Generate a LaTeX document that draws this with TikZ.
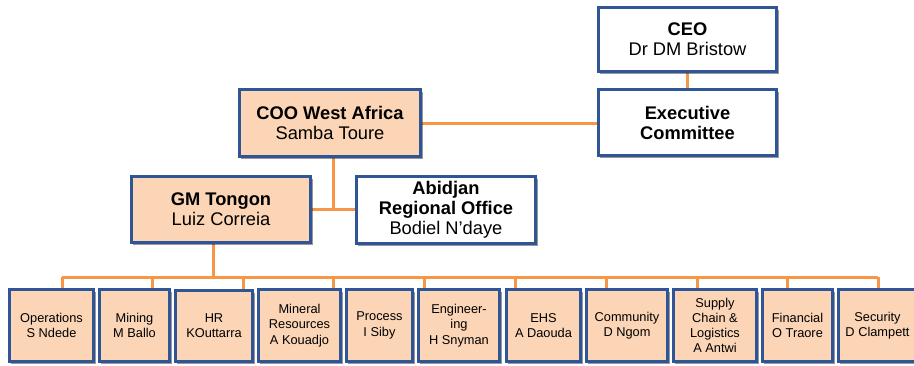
\documentclass[tikz,border=0pt]{standalone}
\usepackage{fontspec}
\setmainfont{Liberation Sans}
\usetikzlibrary{shadows,backgrounds}
\definecolor{bblue}{HTML}{2F5597}
\definecolor{peach}{HTML}{FBD5B5}
\definecolor{conorange}{HTML}{F79646}
\tikzset{
  box/.style={draw=bblue, line width=2.8pt, inner sep=0pt, align=center,
    drop shadow={shadow xshift=2pt, shadow yshift=-2.5pt, fill=black, opacity=0.4}},
  big/.style={font=\fontsize{18.3}{20}\selectfont},
  small/.style={font=\fontsize{12.8}{15.2}\selectfont},
  conn/.style={draw=conorange, line width=3pt}
}
\newcommand{\obox}[7]{%
  \node[box,#6, minimum width={(#4-#2-2.8)*1pt}, minimum height={(#5-#3-2.8)*1pt}]
    (#1) at ({(#2+#4)/2},{(#3+#5)/2}) {#7};}
\begin{document}
\begin{tikzpicture}[x=1pt,y=-1pt]
\useasboundingbox (0,0) rectangle (914,365);
% top boxes
\obox{ceo}{597}{6}{778}{73}{fill=white,big}{\textbf{CEO}\\Dr DM Bristow}
\obox{exec}{597}{88}{778}{157}{fill=white,big}{\textbf{Executive}\\\textbf{Committee}}
\obox{coo}{238}{88}{422}{158}{fill=peach,big}{\textbf{COO West Africa}\\Samba Toure}
\obox{gm}{130}{175}{312}{244}{fill=peach,big}{\textbf{GM Tongon}\\Luiz Correia}
\obox{abj}{355}{175}{537}{245}{fill=white,big}{\textbf{Abidjan}\\\textbf{Regional Office}\\Bodiel N’daye}
% bottom boxes
\obox{ops}{8}{288}{95}{363}{fill=peach,small}{Operations\\S Ndede}
\obox{min}{98}{288}{171}{363}{fill=peach,small}{Mining\\M Ballo}
\obox{hr}{174}{289}{254}{363}{fill=peach,small}{HR\\KOuttarra}
\obox{mres}{257}{288}{342}{363}{fill=peach,small}{Mineral\\Resources\\A Kouadjo}
\obox{proc}{345}{288}{414}{363}{fill=peach,small}{Process\\I Siby}
\obox{eng}{417}{288}{501}{363}{fill=peach,small}{Engineer-\\ing\\H Snyman}
\obox{ehs}{505}{288}{582}{363}{fill=peach,small}{EHS\\A Daouda}
\obox{com}{585}{288}{669}{363}{fill=peach,small}{Community\\D Ngom}
\obox{sup}{672}{288}{758}{363}{fill=peach,small}{Supply\\Chain \&\\Logistics\\A Antwi}
\obox{fin}{761}{288}{834}{363}{fill=peach,small}{Financial\\O Traore}
\obox{sec}{837}{288}{918}{363}{fill=peach,small}{Security\\D Clampett}
% connectors
\coordinate (cooj) at (333,209);
\coordinate (busL) at (62,277);
\coordinate (busR) at (878,277);
\coordinate (gmj) at (213,277);
\coordinate (d1) at (62,277);
\coordinate (d2) at (152,277);
\coordinate (d3) at (243,277);
\coordinate (d4) at (333,277);
\coordinate (d5) at (424,277);
\coordinate (d6) at (515,277);
\coordinate (d7) at (606,277);
\coordinate (d8) at (697,277);
\coordinate (d9) at (787,277);
\coordinate (d10) at (878,277);
\begin{scope}[on background layer]
\draw[conn] (ceo.south -| 687,0) -- (exec.north -| 687,0);
\draw[conn] (coo.east) -- (coo.east -| exec.west);
\draw[conn] (coo.south -| cooj) -- (cooj);
\draw[conn] (gm.east |- cooj) -- (abj.west |- cooj);
\draw[conn] (gm.south -| gmj) -- (gmj);
\draw[conn] (busL) -- (busR);
\draw[conn] (d1) -- (d1 |- ops.north);
\draw[conn] (d2) -- (d2 |- min.north);
\draw[conn] (d3) -- (d3 |- hr.north);
\draw[conn] (d4) -- (d4 |- mres.north);
\draw[conn] (d5) -- (d5 |- eng.north);
\draw[conn] (d6) -- (d6 |- ehs.north);
\draw[conn] (d7) -- (d7 |- com.north);
\draw[conn] (d8) -- (d8 |- sup.north);
\draw[conn] (d9) -- (d9 |- fin.north);
\draw[conn] (d10) -- (d10 |- sec.north);
\end{scope}
\end{tikzpicture}
\end{document}
